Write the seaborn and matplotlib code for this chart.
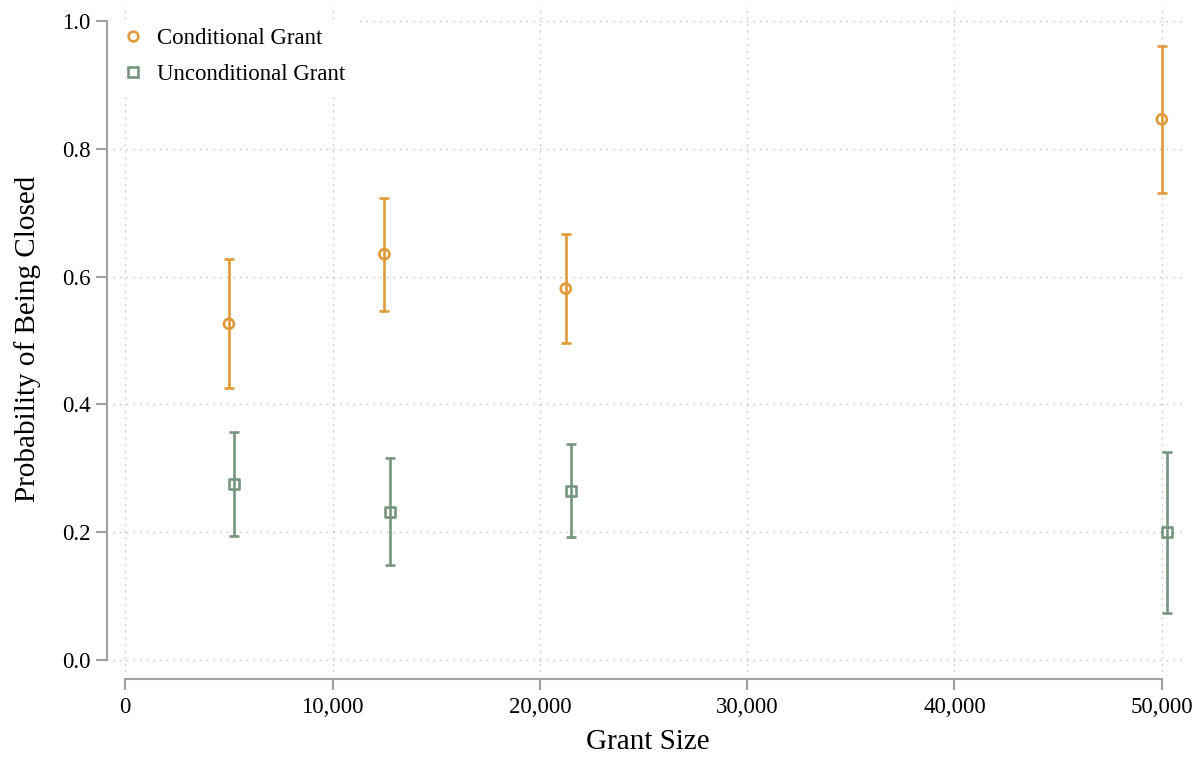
import numpy as np
import pandas as pd
import seaborn as sns
import matplotlib.pyplot as plt
from matplotlib.lines import Line2D
from matplotlib.ticker import FuncFormatter

# -----------------------------
# Data
# -----------------------------
cond_x = [5000, 12500, 21250, 50000]
cond_y = [0.526, 0.635, 0.581, 0.846]
cond_lo = [0.425, 0.546, 0.496, 0.731]
cond_hi = [0.627, 0.723, 0.667, 0.961]

uncond_x = [5250, 12750, 21500, 50250]
uncond_y = [0.275, 0.232, 0.265, 0.200]
uncond_lo = [0.194, 0.149, 0.193, 0.074]
uncond_hi = [0.357, 0.316, 0.338, 0.326]

x_ticks = [0, 10000, 20000, 30000, 40000, 50000]
y_ticks = [0.0, 0.2, 0.4, 0.6, 0.8, 1.0]

groups = ["Conditional Grant", "Unconditional Grant"]
colors = {"Conditional Grant": "#E09A3A", "Unconditional Grant": "#76967F"}
markers = {"Conditional Grant": "o", "Unconditional Grant": "s"}

df = pd.DataFrame({
    "grant": cond_x + uncond_x,
    "prob": cond_y + uncond_y,
    "lo": cond_lo + uncond_lo,
    "hi": cond_hi + uncond_hi,
    "group": [groups[0]] * 4 + [groups[1]] * 4,
})

# -----------------------------
# Style
# -----------------------------
sns.set_theme(style="white")
plt.rcParams["font.family"] = ["Liberation Serif", "DejaVu Serif"]
plt.rcParams["text.color"] = "black"
plt.rcParams["axes.labelcolor"] = "black"

fig = plt.figure(figsize=(12.04, 7.57), dpi=100)
ax = fig.add_axes([113 / 1204, 1 - 672 / 757, (1182 - 113) / 1204, (672 - 5) / 757])

grid_kw = dict(color="#bdbdbd", lw=1.0, linestyle=(0, (1, 3.8)), zorder=0)
for xt in x_ticks:
    ax.axvline(xt, **grid_kw)
for yt in y_ticks:
    ax.axhline(yt, **grid_kw)

# -----------------------------
# Error bars + markers
# -----------------------------
for g in groups:
    sub = df[df["group"] == g]
    err = np.vstack([sub["prob"] - sub["lo"], sub["hi"] - sub["prob"]])
    ax.errorbar(sub["grant"], sub["prob"], yerr=err, fmt="none",
                ecolor=colors[g], elinewidth=1.9, capsize=3.9, capthick=1.9, zorder=2)
    sns.scatterplot(data=sub, x="grant", y="prob", marker=markers[g], s=52,
                    color=colors[g], facecolor="none", edgecolor=colors[g],
                    linewidth=1.9, ax=ax, zorder=3, legend=False)

ax.set_xlim(-593, 50975)
ax.set_ylim(-0.019, 1.025)

ax.set_xticks(x_ticks)
ax.set_yticks(y_ticks)
ax.xaxis.set_major_formatter(FuncFormatter(lambda v, p: f"{int(v):,}"))
ax.yaxis.set_major_formatter(FuncFormatter(lambda v, p: f"{v:.1f}"))

# Stata-like detached axes
for side in ["top", "right"]:
    ax.spines[side].set_visible(False)
for side in ["left", "bottom"]:
    ax.spines[side].set_color("#a0a0a0")
    ax.spines[side].set_linewidth(1.5)
ax.spines["left"].set_position(("outward", 4.3))
ax.spines["bottom"].set_position(("outward", 5))
ax.spines["left"].set_bounds(0, 1)
ax.spines["bottom"].set_bounds(0, 50000)

ax.tick_params(axis="both", which="major", length=8, width=1.5, color="#a0a0a0",
               labelsize=16.5, labelcolor="black", left=True, bottom=True)
ax.tick_params(axis="x", pad=5)
ax.tick_params(axis="y", pad=4)

ax.set_xlabel("Grant Size", fontsize=21, labelpad=8)
ax.set_ylabel("Probability of Being Closed", fontsize=21, labelpad=15)

handles = [
    Line2D([], [], linestyle="none", marker=markers[g], markersize=7,
           markerfacecolor="none", markeredgecolor=colors[g], markeredgewidth=1.9)
    for g in groups
]
leg = ax.legend(handles, groups, loc="upper left", bbox_to_anchor=(-0.009, 0.99),
                frameon=True, fontsize=16.5, handletextpad=0.45, labelspacing=0.68,
                borderaxespad=0.3, handlelength=1.2)
leg.get_frame().set_edgecolor("white")
leg.get_frame().set_facecolor("white")
leg.get_frame().set_alpha(1)

fig.savefig("out.png", dpi=100)
